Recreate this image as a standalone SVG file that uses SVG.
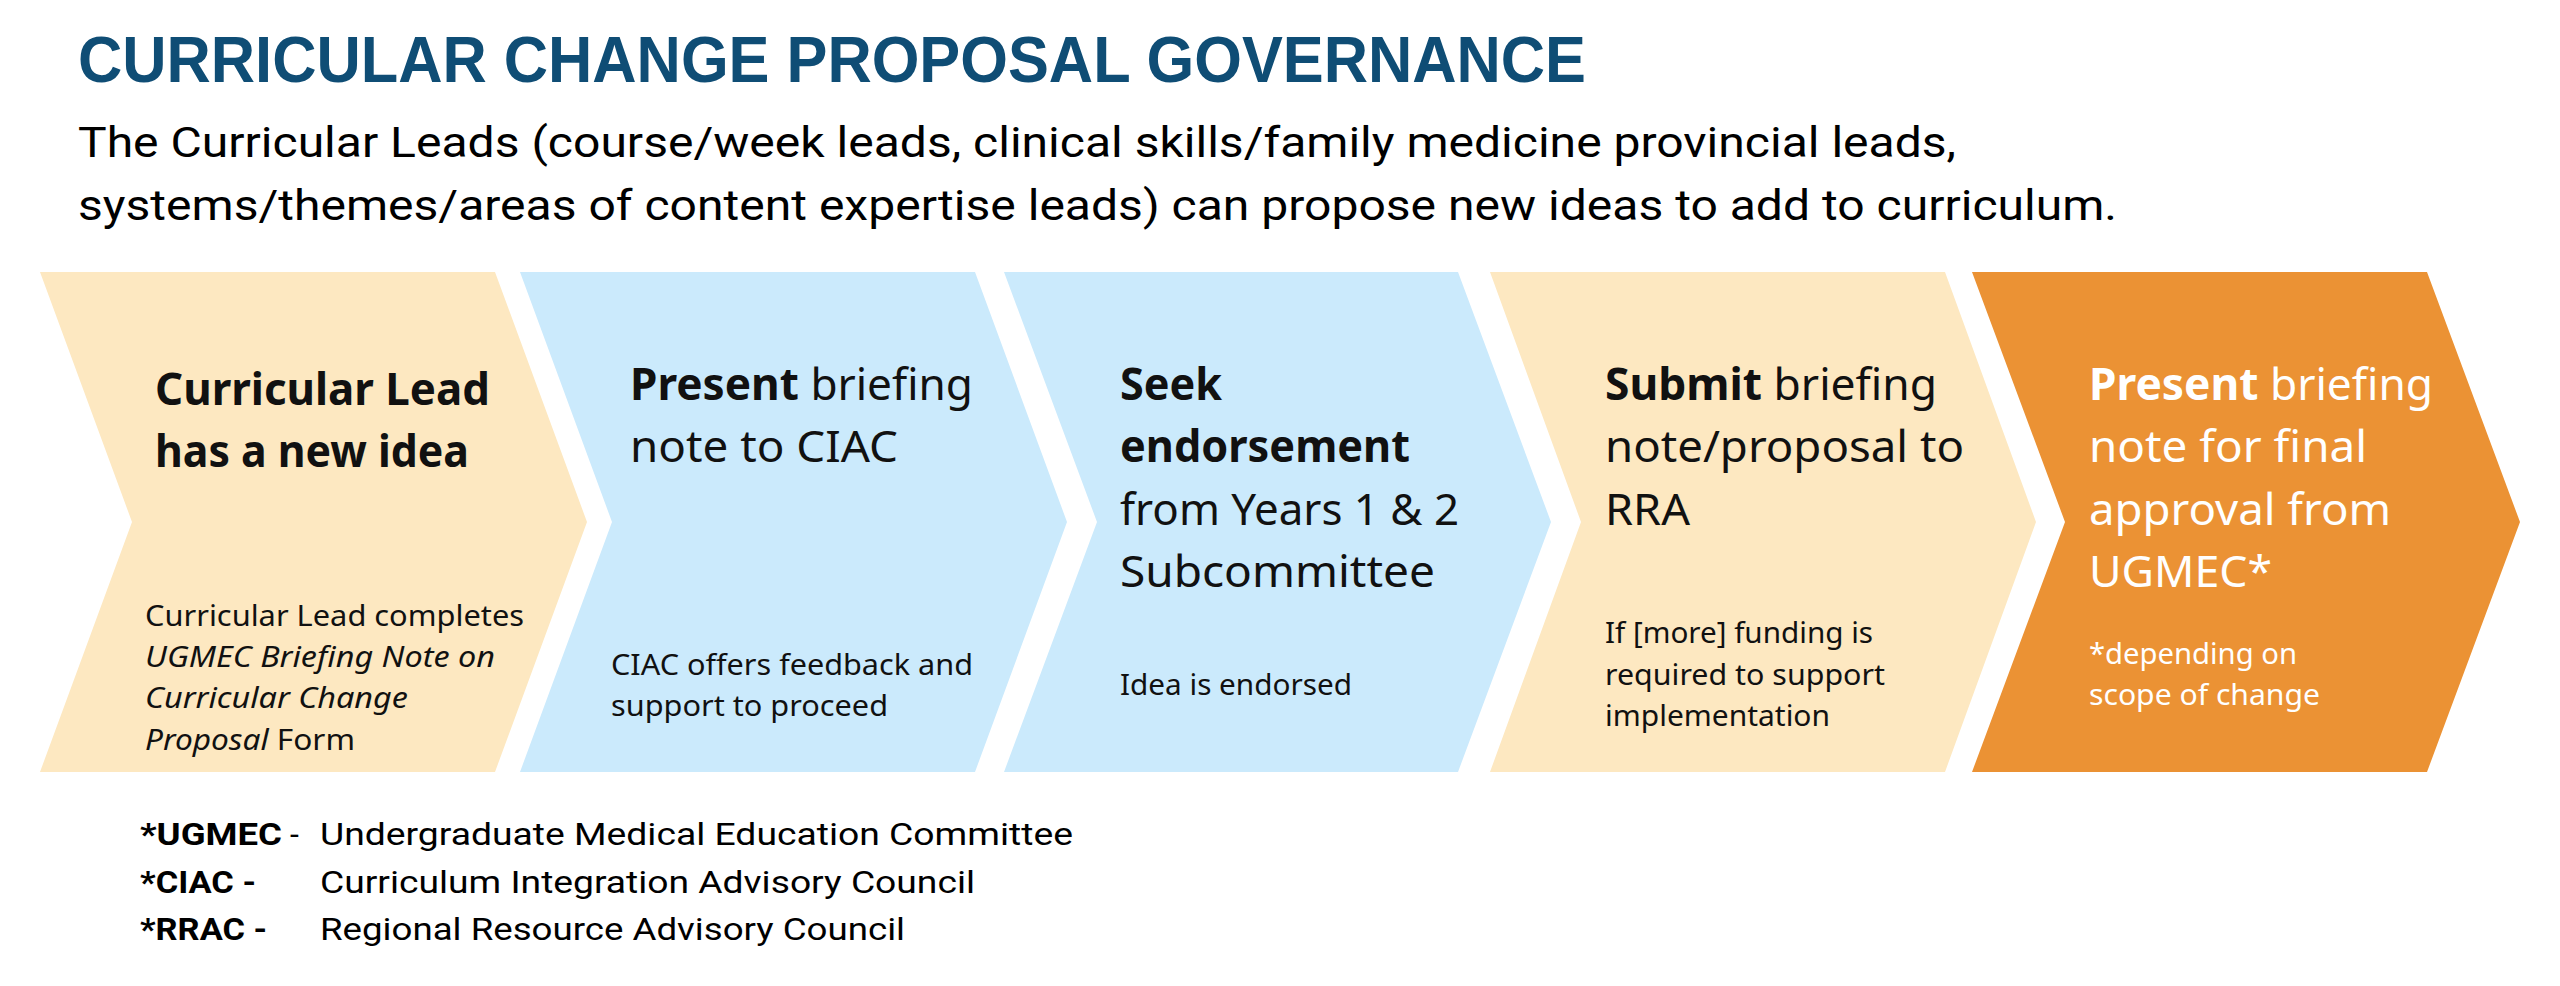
<svg xmlns="http://www.w3.org/2000/svg" width="2560" height="986" viewBox="0 0 2560 986">
<style>
.bg{fill:#ffffff}
.tan{fill:#FDE8C1}
.blue{fill:#CBEAFC}
.orange{fill:#EB9234}
.title{font-family:"Liberation Sans","Roboto",sans-serif;font-weight:700;font-size:65px;fill:#0F4D75}
.sub{font-family:"Roboto","Liberation Sans",sans-serif;font-size:43px;fill:#000}
.h{font-family:"Noto Sans","Open Sans",sans-serif;font-size:44px;fill:#111}
.s{font-family:"Noto Sans","Open Sans",sans-serif;font-size:29px;fill:#111}
.b{font-weight:700}
.i{font-style:italic}
.w{fill:#ffffff}
.f{font-family:"Roboto","Liberation Sans",sans-serif;font-size:32px;fill:#000}
</style>
<rect class="bg" x="0" y="0" width="2560" height="986"/>
<g id="header">
<text class="title" x="78" y="82" textLength="1508" lengthAdjust="spacingAndGlyphs">CURRICULAR CHANGE PROPOSAL GOVERNANCE</text>
<text class="sub" x="78" y="157" textLength="1878" lengthAdjust="spacingAndGlyphs">The Curricular Leads (course/week leads, clinical skills/family medicine provincial leads,</text>
<text class="sub" x="78" y="220" textLength="2039" lengthAdjust="spacingAndGlyphs">systems/themes/areas of content expertise leads) can propose new ideas to add to curriculum.</text>
</g>
<g id="connectors"></g>
<g id="step1">
<polygon class="tan" points="40,272 495,272 587,522 495,772 40,772 132,522"/>
<text class="h b" x="155" y="405" textLength="335" lengthAdjust="spacingAndGlyphs">Curricular Lead</text>
<text class="h b" x="155" y="467" textLength="314" lengthAdjust="spacingAndGlyphs">has a new idea</text>
<text class="s" x="145" y="626" textLength="379" lengthAdjust="spacingAndGlyphs">Curricular Lead completes</text>
<text class="s i" x="145" y="667" textLength="350" lengthAdjust="spacingAndGlyphs">UGMEC Briefing Note on</text>
<text class="s i" x="145" y="708" textLength="263" lengthAdjust="spacingAndGlyphs">Curricular Change</text>
<text class="s" x="145" y="750" textLength="210" lengthAdjust="spacingAndGlyphs"><tspan class="i">Proposal</tspan> Form</text>
</g>
<g id="step2">
<polygon class="blue" points="520,272 975,272 1067,522 975,772 520,772 612,522"/>
<text class="h" x="630" y="400" textLength="343" lengthAdjust="spacingAndGlyphs"><tspan class="b">Present</tspan> briefing</text>
<text class="h" x="630" y="462" textLength="268" lengthAdjust="spacingAndGlyphs">note to CIAC</text>
<text class="s" x="611" y="675" textLength="362" lengthAdjust="spacingAndGlyphs">CIAC offers feedback and</text>
<text class="s" x="611" y="716" textLength="277" lengthAdjust="spacingAndGlyphs">support to proceed</text>
</g>
<g id="step3">
<polygon class="blue" points="1004,272 1458,272 1551,522 1458,772 1004,772 1097,522"/>
<text class="h b" x="1120" y="400" textLength="102" lengthAdjust="spacingAndGlyphs">Seek</text>
<text class="h b" x="1120" y="462" textLength="290" lengthAdjust="spacingAndGlyphs">endorsement</text>
<text class="h" x="1120" y="525" textLength="339" lengthAdjust="spacingAndGlyphs">from Years 1 &amp; 2</text>
<text class="h" x="1120" y="587" textLength="315" lengthAdjust="spacingAndGlyphs">Subcommittee</text>
<text class="s" x="1120" y="695" textLength="232" lengthAdjust="spacingAndGlyphs">Idea is endorsed</text>
</g>
<g id="step4">
<polygon class="tan" points="1490,272 1945,272 2036,522 1945,772 1490,772 1581,522"/>
<text class="h" x="1605" y="400" textLength="332" lengthAdjust="spacingAndGlyphs"><tspan class="b">Submit</tspan> briefing</text>
<text class="h" x="1605" y="462" textLength="359" lengthAdjust="spacingAndGlyphs">note/proposal to</text>
<text class="h" x="1605" y="525" textLength="85" lengthAdjust="spacingAndGlyphs">RRA</text>
<text class="s" x="1605" y="643" textLength="268" lengthAdjust="spacingAndGlyphs">If [more] funding is</text>
<text class="s" x="1605" y="685" textLength="280" lengthAdjust="spacingAndGlyphs">required to support</text>
<text class="s" x="1605" y="726" textLength="225" lengthAdjust="spacingAndGlyphs">implementation</text>
</g>
<g id="step5">
<polygon class="orange" points="1972,272 2427,272 2520,522 2427,772 1972,772 2065,522"/>
<text class="h w" x="2089" y="400" textLength="344" lengthAdjust="spacingAndGlyphs"><tspan class="b">Present</tspan> briefing</text>
<text class="h w" x="2089" y="462" textLength="278" lengthAdjust="spacingAndGlyphs">note for final</text>
<text class="h w" x="2089" y="525" textLength="302" lengthAdjust="spacingAndGlyphs">approval from</text>
<text class="h w" x="2089" y="587" textLength="183" lengthAdjust="spacingAndGlyphs">UGMEC*</text>
<text class="s w" x="2089" y="664" textLength="208" lengthAdjust="spacingAndGlyphs">*depending on</text>
<text class="s w" x="2089" y="705" textLength="231" lengthAdjust="spacingAndGlyphs">scope of change</text>
</g>
<g id="legend">
<text class="f b" x="140" y="845" textLength="142" lengthAdjust="spacingAndGlyphs">*UGMEC</text>
<text class="f" x="290" y="845">-</text>
<text class="f" x="320" y="845" textLength="753" lengthAdjust="spacingAndGlyphs">Undergraduate Medical Education Committee</text>
<text class="f b" x="140" y="893" textLength="116" lengthAdjust="spacingAndGlyphs">*CIAC -</text>
<text class="f" x="320" y="893" textLength="655" lengthAdjust="spacingAndGlyphs">Curriculum Integration Advisory Council</text>
<text class="f b" x="140" y="940" textLength="127" lengthAdjust="spacingAndGlyphs">*RRAC -</text>
<text class="f" x="320" y="940" textLength="585" lengthAdjust="spacingAndGlyphs">Regional Resource Advisory Council</text>
</g>
</svg>
